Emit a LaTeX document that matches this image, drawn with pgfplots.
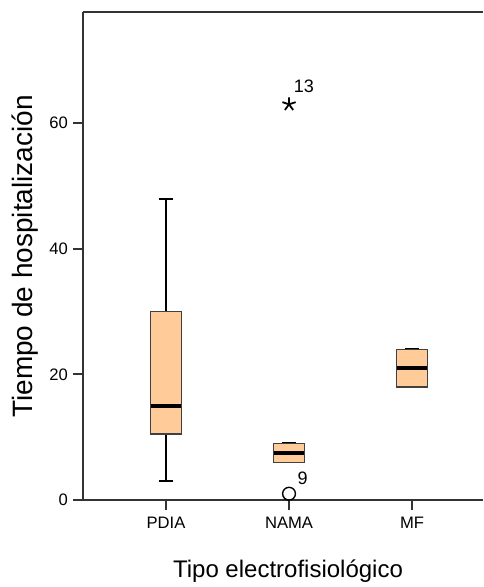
\documentclass[border=0pt]{standalone}
\usepackage{fontspec}
\setmainfont{Liberation Sans}
\usepackage{pgfplots}
\pgfplotsset{compat=1.18}
\usepgfplotslibrary{statistics}
\usetikzlibrary{calc,plotmarks}
\definecolor{boxfill}{RGB}{255,204,153}

\begin{document}
\begin{tikzpicture}
\begin{axis}[
    name=main,
    scale only axis,
    width=200pt, height=244pt,
    xmin=0.325, xmax=3.577,
    ymin=0, ymax=77.7,
    axis x line=box, axis y line=left,
    axis line style={-, line width=0.9pt, black!80},
    xtick={1,2,3},
    xticklabels={PDIA,NAMA,MF},
    xtick pos=left,
    ytick={0,20,40,60},
    tick align=outside,
    major tick length=5pt,
    tick style={line width=0.9pt, black!80},
    ticklabel style={font=\fontsize{8.3}{9}\selectfont},
    yticklabel style={xshift=1pt},
    /pgf/number format/assume math mode=true,
    xlabel={Tipo electrofisiológico},
    ylabel={Tiempo de hospitalización},
    xlabel style={font=\fontsize{12}{14}\selectfont, at={(axis description cs:0.5125,0)}, anchor=base, yshift=-38.5pt},
    ylabel style={font=\fontsize{14}{16}\selectfont, at={(axis description cs:0,0.499)}, anchor=center, yshift=29pt},
    clip=false,
    boxplot/draw direction=y,
    boxplot/box extend=0.25,
    boxplot/whisker extend=0.12,
    boxplot/every box/.style={draw=black!75, line width=0.7pt, fill=boxfill},
    boxplot/every whisker/.style={black, line width=1pt},
    boxplot/every median/.style={black, line width=2pt},
]
% PDIA
\addplot[boxplot prepared={draw position=1, lower whisker=3, lower quartile=10.5,
    median=15, upper quartile=30, upper whisker=48}] coordinates {};
% NAMA
\addplot[boxplot prepared={draw position=2, lower whisker=6, lower quartile=6,
    median=7.5, upper quartile=9, upper whisker=9}] coordinates {};
% MF
\addplot[boxplot prepared={draw position=3, lower whisker=18, lower quartile=18,
    median=21, upper quartile=24, upper whisker=24}] coordinates {};

% outliers
\addplot[only marks, mark=o, mark size=3.2pt, black, line width=0.7pt,
    point meta=explicit symbolic, nodes near coords,
    nodes near coords style={anchor=south west, inner sep=0pt, xshift=4pt, yshift=4pt,
        font=\fontsize{9}{10}\selectfont}]
    coordinates {(2,1) [9]};
\addplot[only marks, mark=star, mark size=3.5pt, black, line width=0.9pt,
    point meta=explicit symbolic, nodes near coords,
    nodes near coords style={anchor=south west, inner sep=0pt, xshift=2pt, yshift=5.5pt,
        font=\fontsize{9}{10}\selectfont}]
    coordinates {(2,63) [13]};
\end{axis}
\pgfresetboundingbox
\path[use as bounding box] ($(main.south west)+(-41.5pt,-43.5pt)$) rectangle ($(main.north east)+(0,6pt)$);
\end{tikzpicture}
\end{document}
